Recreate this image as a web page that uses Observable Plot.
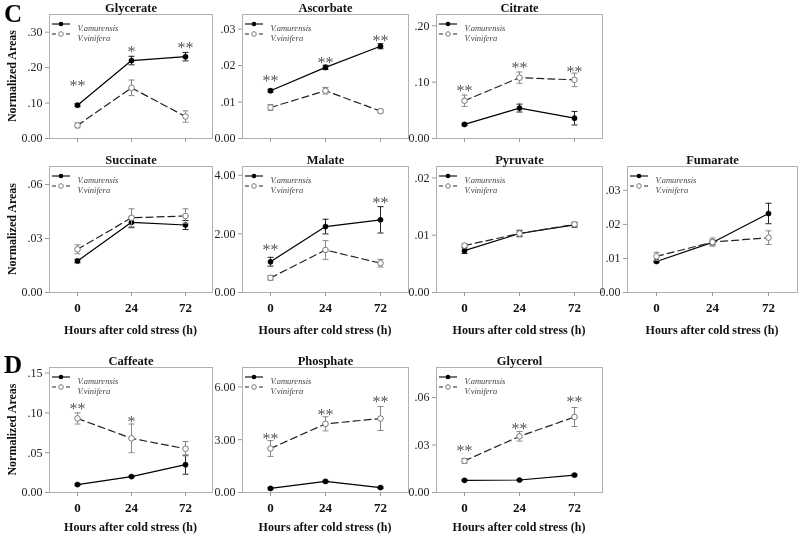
<!DOCTYPE html>
<html><head><meta charset="utf-8">
<script src="https://cdn.jsdelivr.net/npm/d3@7"></script>
<script src="https://cdn.jsdelivr.net/npm/@observablehq/plot@0.6"></script>
<style>
body{margin:0;background:#fff;}
#page{position:relative;width:798px;height:535px;overflow:hidden;font-family:"Liberation Serif",serif;background:#fff;}
#page svg{position:absolute;will-change:transform;}
</style></head><body><div id="page"></div>
<script>
const hours = ["0", "24", "72"];
const seriesNames = ["V.amurensis", "V.vinifera"];

// Glycerate
const glycerateAm = [0.094, 0.220, 0.231];
const glycerateAmErr = [0.004, 0.012, 0.012];
const glycerateVi = [0.037, 0.143, 0.062];
const glycerateViErr = [0.007, 0.022, 0.016];
const glycerateStars = ["**", "*", "**"];
const glycerateStarY = [0.160, 0.257, 0.266];
const glycerateTicks = [0, 0.1, 0.2, 0.3];
// Ascorbate
const ascorbateAm = [0.0131, 0.0195, 0.0253];
const ascorbateAmErr = [0.0004, 0.0006, 0.0007];
const ascorbateVi = [0.0085, 0.0131, 0.0075];
const ascorbateViErr = [0.0008, 0.0009, 0.0005];
const ascorbateStars = ["**", "**", "**"];
const ascorbateStarY = [0.0169, 0.0218, 0.0278];
const ascorbateTicks = [0, 0.01, 0.02, 0.03];
// Citrate
const citrateAm = [0.025, 0.054, 0.036];
const citrateAmErr = [0.002, 0.007, 0.012];
const citrateVi = [0.067, 0.108, 0.104];
const citrateViErr = [0.010, 0.010, 0.012];
const citrateStars = ["**", "**", "**"];
const citrateStarY = [0.091, 0.132, 0.126];
const citrateTicks = [0, 0.1, 0.2];
// Succinate
const succinateAm = [0.0175, 0.039, 0.0375];
const succinateAmErr = [0.001, 0.003, 0.0025];
const succinateVi = [0.024, 0.0415, 0.0425];
const succinateViErr = [0.0025, 0.005, 0.004];
const succinateStars = ["", "", ""];
const succinateStarY = [null, null, null];
const succinateTicks = [0, 0.03, 0.06];
// Malate
const malateAm = [1.05, 2.25, 2.48];
const malateAmErr = [0.15, 0.25, 0.45];
const malateVi = [0.50, 1.45, 1.00];
const malateViErr = [0.08, 0.32, 0.13];
const malateStars = ["**", "", "**"];
const malateStarY = [1.6, null, 3.18];
const malateTicks = [0, 2, 4];
// Pyruvate
const pyruvateAm = [0.0073, 0.0103, 0.0118];
const pyruvateAmErr = [0.0005, 0.0005, 0.0004];
const pyruvateVi = [0.0082, 0.0103, 0.0119];
const pyruvateViErr = [0.0003, 0.0006, 0.0004];
const pyruvateStars = ["", "", ""];
const pyruvateStarY = [null, null, null];
const pyruvateTicks = [0, 0.01, 0.02];
// Fumarate
const fumarateAm = [0.0091, 0.0147, 0.0232];
const fumarateAmErr = [0.0003, 0.0007, 0.003];
const fumarateVi = [0.0106, 0.0148, 0.0161];
const fumarateViErr = [0.0012, 0.0012, 0.002];
const fumarateStars = ["", "", ""];
const fumarateStarY = [null, null, null];
const fumarateTicks = [0, 0.01, 0.02, 0.03];
// Caffeate
const caffeateAm = [0.010, 0.020, 0.035];
const caffeateAmErr = [0.001, 0.001, 0.012];
const caffeateVi = [0.093, 0.068, 0.055];
const caffeateViErr = [0.007, 0.018, 0.009];
const caffeateStars = ["**", "*", ""];
const caffeateStarY = [0.110, 0.094, null];
const caffeateTicks = [0, 0.05, 0.10, 0.15];
// Phosphate
const phosphateAm = [0.23, 0.63, 0.28];
const phosphateAmErr = [0.05, 0.06, 0.05];
const phosphateVi = [2.5, 3.9, 4.2];
const phosphateViErr = [0.45, 0.40, 0.68];
const phosphateStars = ["**", "**", "**"];
const phosphateStarY = [3.3, 4.64, 5.4];
const phosphateTicks = [0, 3, 6];
// Glycerol
const glycerolAm = [0.0077, 0.0079, 0.011];
const glycerolAmErr = [0.0003, 0.0003, 0.0006];
const glycerolVi = [0.020, 0.0355, 0.0477];
const glycerolViErr = [0.0015, 0.003, 0.006];
const glycerolStars = ["**", "**", "**"];
const glycerolStarY = [0.0286, 0.0428, 0.0595];
const glycerolTicks = [0, 0.03, 0.06];

const fmt = d => (d === 0 || d >= 1) ? d3.format(".2f")(d) : d3.format(".2f")(d).slice(1);
const FONT = "'Liberation Serif', 'Times New Roman', serif";
const page = document.getElementById("page");

const cap = {draw(ctx, size) { const r = Math.sqrt(size / Math.PI); ctx.moveTo(-r, 0); ctx.lineTo(r, 0); }};

function panel(cfg) {
  const {title, am, amErr, vi, viErr, stars, starY, yMax, yTicks, frame, xLabels} = cfg;
  const [x0, x1, y0, y1] = frame;
  const mL = 45, mR = 3, mT = 22, mB = 28;
  const amRows = hours.map((h, i) => ({h, v: am[i], lo: am[i] - amErr[i], hi: am[i] + amErr[i]}));
  const viRows = hours.map((h, i) => ({h, v: vi[i], lo: vi[i] - viErr[i], hi: vi[i] + viErr[i]}));
  const starRows = hours.map((h, i) => ({h, s: stars[i], y: starY[i]})).filter(d => d.s);
  const svg = Plot.plot({
    width: x1 - x0 + mL + mR, height: y1 - y0 + mT + mB,
    marginLeft: mL, marginRight: mR, marginTop: mT, marginBottom: mB,
    style: {fontFamily: FONT, background: "transparent", overflow: "visible"},
    x: {type: "point", domain: hours, padding: 0.5},
    y: {domain: [0, yMax]},
    marks: [
      Plot.frame({stroke: "#b0b0b0"}),
      Plot.axisY({ticks: yTicks, tickFormat: fmt, tickSize: 4, tickPadding: 3, stroke: "#999", fill: "#222", fontSize: 12, label: null}),
      Plot.axisX({tickSize: 4, tickPadding: 6, stroke: "#999", fill: "#111", tickFormat: xLabels ? (d => d) : (() => ""), fontSize: 13, fontWeight: "bold", label: null}),
      Plot.text([title], {frameAnchor: "top", dy: -11, fontWeight: "bold", fontSize: 12.5, fill: "#111"}),
      Plot.ruleX(amRows, {x: "h", y1: "lo", y2: "hi", stroke: "#222", strokeWidth: 1}),
      Plot.dot(amRows, {x: "h", y: "hi", symbol: cap, r: 3, stroke: "#222", strokeWidth: 1, fill: "none"}),
      Plot.dot(amRows, {x: "h", y: "lo", symbol: cap, r: 3, stroke: "#222", strokeWidth: 1, fill: "none"}),
      Plot.line(amRows, {x: "h", y: "v", stroke: "#000", strokeWidth: 1.2}),
      Plot.dot(amRows, {x: "h", y: "v", r: 2.6, fill: "#000", stroke: "#000", strokeWidth: 0.5}),
      Plot.ruleX(viRows, {x: "h", y1: "lo", y2: "hi", stroke: "#888", strokeWidth: 1}),
      Plot.dot(viRows, {x: "h", y: "hi", symbol: cap, r: 3, stroke: "#888", strokeWidth: 1, fill: "none"}),
      Plot.dot(viRows, {x: "h", y: "lo", symbol: cap, r: 3, stroke: "#888", strokeWidth: 1, fill: "none"}),
      Plot.line(viRows, {x: "h", y: "v", stroke: "#222", strokeWidth: 1.2, strokeDasharray: "7,4"}),
      Plot.dot(viRows, {x: "h", y: "v", r: 2.8, fill: "#fff", stroke: "#777", strokeWidth: 1}),
      Plot.text(starRows, {x: "h", y: "y", text: "s", fontSize: 16, fill: "#555", dy: 4, letterSpacing: "1px"}),
      Plot.text([seriesNames[0]], {frameAnchor: "top-left", dx: 28, dy: 10, textAnchor: "start", fontStyle: "italic", fontSize: 8.5, fill: "#444"}),
      Plot.text([seriesNames[1]], {frameAnchor: "top-left", dx: 28, dy: 20, textAnchor: "start", fontStyle: "italic", fontSize: 8.5, fill: "#444"})
    ]
  });
  svg.style.left = (x0 - mL) + "px";
  svg.style.top = (y0 - mT) + "px";
  // legend samples
  const g = d3.select(svg).append("g").attr("transform", `translate(${mL},${mT})`);
  g.append("line").attr("x1", 3).attr("x2", 21).attr("y1", 10).attr("y2", 10).attr("stroke", "#000").attr("stroke-width", 1.1);
  g.append("circle").attr("cx", 12).attr("cy", 10).attr("r", 2.3).attr("fill", "#000");
  g.append("line").attr("x1", 3).attr("x2", 21).attr("y1", 20).attr("y2", 20).attr("stroke", "#222").attr("stroke-width", 1.1).attr("stroke-dasharray", "4,3");
  g.append("circle").attr("cx", 12).attr("cy", 20).attr("r", 2.3).attr("fill", "#fff").attr("stroke", "#777");
  page.appendChild(svg);
}

const cols = [[49, 212], [242, 408], [436, 602], [627, 797]];
const rowsY = [[14, 138], [166, 292], [367, 492]];
const f = (c, r) => [cols[c][0], cols[c][1], rowsY[r][0], rowsY[r][1]];

panel({title: "Glycerate", am: glycerateAm, amErr: glycerateAmErr, vi: glycerateVi, viErr: glycerateViErr, stars: glycerateStars, starY: glycerateStarY, yMax: 0.35, yTicks: glycerateTicks, frame: f(0, 0), xLabels: false});
panel({title: "Ascorbate", am: ascorbateAm, amErr: ascorbateAmErr, vi: ascorbateVi, viErr: ascorbateViErr, stars: ascorbateStars, starY: ascorbateStarY, yMax: 0.034, yTicks: ascorbateTicks, frame: f(1, 0), xLabels: false});
panel({title: "Citrate", am: citrateAm, amErr: citrateAmErr, vi: citrateVi, viErr: citrateViErr, stars: citrateStars, starY: citrateStarY, yMax: 0.22, yTicks: citrateTicks, frame: f(2, 0), xLabels: false});
panel({title: "Succinate", am: succinateAm, amErr: succinateAmErr, vi: succinateVi, viErr: succinateViErr, stars: succinateStars, starY: succinateStarY, yMax: 0.07, yTicks: succinateTicks, frame: f(0, 1), xLabels: true});
panel({title: "Malate", am: malateAm, amErr: malateAmErr, vi: malateVi, viErr: malateViErr, stars: malateStars, starY: malateStarY, yMax: 4.3, yTicks: malateTicks, frame: f(1, 1), xLabels: true});
panel({title: "Pyruvate", am: pyruvateAm, amErr: pyruvateAmErr, vi: pyruvateVi, viErr: pyruvateViErr, stars: pyruvateStars, starY: pyruvateStarY, yMax: 0.022, yTicks: pyruvateTicks, frame: f(2, 1), xLabels: true});
panel({title: "Fumarate", am: fumarateAm, amErr: fumarateAmErr, vi: fumarateVi, viErr: fumarateViErr, stars: fumarateStars, starY: fumarateStarY, yMax: 0.037, yTicks: fumarateTicks, frame: f(3, 1), xLabels: true});
panel({title: "Caffeate", am: caffeateAm, amErr: caffeateAmErr, vi: caffeateVi, viErr: caffeateViErr, stars: caffeateStars, starY: caffeateStarY, yMax: 0.157, yTicks: caffeateTicks, frame: f(0, 2), xLabels: true});
panel({title: "Phosphate", am: phosphateAm, amErr: phosphateAmErr, vi: phosphateVi, viErr: phosphateViErr, stars: phosphateStars, starY: phosphateStarY, yMax: 7.1, yTicks: phosphateTicks, frame: f(1, 2), xLabels: true});
panel({title: "Glycerol", am: glycerolAm, amErr: glycerolAmErr, vi: glycerolVi, viErr: glycerolViErr, stars: glycerolStars, starY: glycerolStarY, yMax: 0.079, yTicks: glycerolTicks, frame: f(2, 2), xLabels: true});

// overlay texts
const ov = d3.select(page).append("svg").attr("width", 798).attr("height", 535).style("left", "0px").style("top", "0px")
  .style("font-family", FONT).style("pointer-events", "none");
ov.append("text").attr("x", 4).attr("y", 22).attr("font-size", 25).attr("font-weight", "bold").text("C");
ov.append("text").attr("x", 4).attr("y", 373).attr("font-size", 25).attr("font-weight", "bold").text("D");
rowsY.forEach(([a, b]) => {
  ov.append("text").attr("transform", `translate(12,${(a + b) / 2}) rotate(-90)`).attr("text-anchor", "middle")
    .attr("dominant-baseline", "central").attr("font-size", 12).attr("font-weight", "bold").attr("fill", "#111").text("Normalized Areas");
});
const xTitle = "Hours after cold stress (h)";
[[0, 330], [1, 330], [2, 330], [3, 330], [0, 527], [1, 527], [2, 527]].forEach(([c, y]) => {
  ov.append("text").attr("x", (cols[c][0] + cols[c][1]) / 2).attr("y", y).attr("text-anchor", "middle")
    .attr("dominant-baseline", "central").attr("font-size", 12).attr("font-weight", "bold").attr("fill", "#111").text(xTitle);
});
</script></body></html>
